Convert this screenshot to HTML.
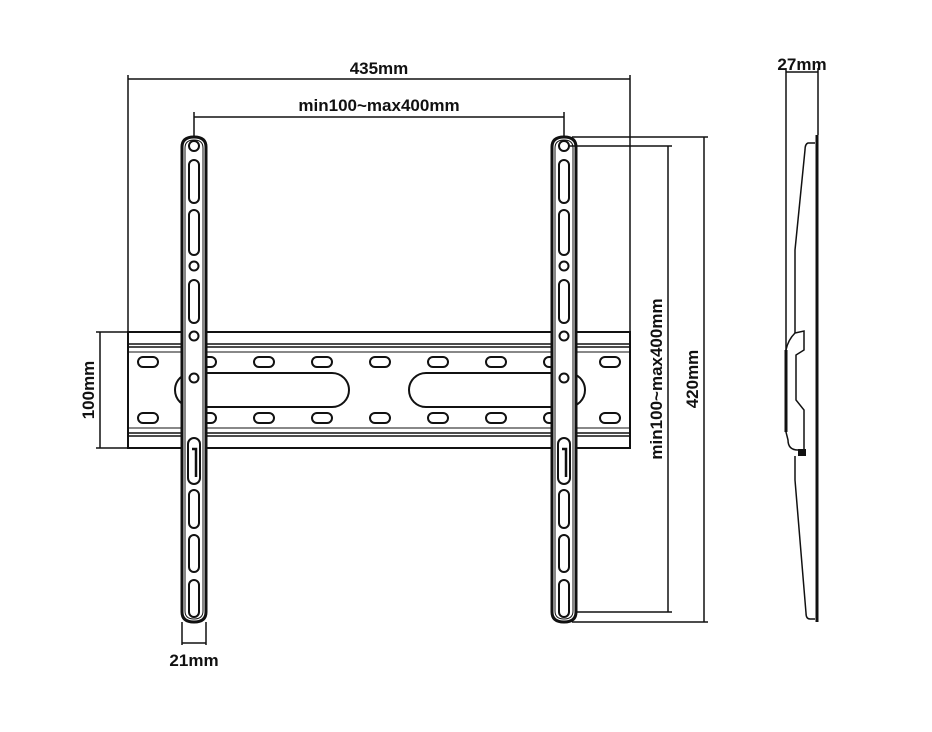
<!DOCTYPE html>
<html><head><style>
body{margin:0;background:#fff}
svg{display:block}
text{font-family:"Liberation Sans",sans-serif;font-weight:bold;font-size:17px;fill:#111}
</style></head><body>
<svg width="932" height="732" viewBox="0 0 932 732" xmlns="http://www.w3.org/2000/svg">
<defs>
<g id="strip">
  <path d="M-12,10 Q-12,0 0,0 Q12,0 12,10 L12,475 Q12,485 0,485 Q-12,485 -12,475 Z" fill="#fff" stroke="#111" stroke-width="3"/>
  <path d="M-9,11 Q-9,3 0,3 Q9,3 9,11 L9,474 Q9,482 0,482 Q-9,482 -9,474 Z" fill="none" stroke="#111" stroke-width="1"/>
  <circle cx="0" cy="9" r="5" fill="none" stroke="#111" stroke-width="2"/>
  <rect x="-5" y="23" width="10" height="43" rx="5" fill="none" stroke="#111" stroke-width="2"/>
  <rect x="-5" y="73" width="10" height="45" rx="5" fill="none" stroke="#111" stroke-width="2"/>
  <circle cx="0" cy="129" r="4.5" fill="none" stroke="#111" stroke-width="2"/>
  <rect x="-5" y="143" width="10" height="43" rx="5" fill="none" stroke="#111" stroke-width="2"/>
  <circle cx="0" cy="199" r="4.5" fill="none" stroke="#111" stroke-width="2"/>
  <circle cx="0" cy="241" r="4.5" fill="none" stroke="#111" stroke-width="2"/>
  <rect x="-6" y="301" width="12" height="46" rx="6" fill="none" stroke="#111" stroke-width="2"/>
  <path d="M-2,312 L2,312 L2,340" fill="none" stroke="#111" stroke-width="2.5"/>
  <rect x="-5" y="353" width="10" height="38" rx="5" fill="none" stroke="#111" stroke-width="2"/>
  <rect x="-5" y="398" width="10" height="37" rx="5" fill="none" stroke="#111" stroke-width="2"/>
  <rect x="-5" y="443" width="10" height="37" rx="5" fill="none" stroke="#111" stroke-width="2"/>
</g>
<rect id="sl" x="-10" y="-5" width="20" height="10" rx="5" fill="none" stroke="#111" stroke-width="2"/>
</defs>

<rect x="128" y="332" width="502" height="116" fill="#fff" stroke="#111" stroke-width="2"/>
<g stroke="#111" fill="none">
  <line x1="128" y1="344" x2="630" y2="344" stroke-width="1.5"/>
  <line x1="128" y1="347" x2="630" y2="347" stroke-width="1.5"/>
  <line x1="128" y1="352" x2="630" y2="352" stroke-width="1"/>
  <line x1="128" y1="428" x2="630" y2="428" stroke-width="1"/>
  <line x1="128" y1="433" x2="630" y2="433" stroke-width="1.5"/>
  <line x1="128" y1="436" x2="630" y2="436" stroke-width="1.5"/>
  <path d="M192,373 L332,373 A17,17 0 0 1 332,407 L192,407 A17,17 0 0 1 192,373 Z" stroke-width="2"/>
  <path d="M426,373 L568,373 A17,17 0 0 1 568,407 L426,407 A17,17 0 0 1 426,373 Z" stroke-width="2"/>
</g>
<g>
  <use href="#sl" x="148" y="362"/><use href="#sl" x="206" y="362"/><use href="#sl" x="264" y="362"/><use href="#sl" x="322" y="362"/><use href="#sl" x="380" y="362"/><use href="#sl" x="438" y="362"/><use href="#sl" x="496" y="362"/><use href="#sl" x="554" y="362"/><use href="#sl" x="610" y="362"/>
  <use href="#sl" x="148" y="418"/><use href="#sl" x="206" y="418"/><use href="#sl" x="264" y="418"/><use href="#sl" x="322" y="418"/><use href="#sl" x="380" y="418"/><use href="#sl" x="438" y="418"/><use href="#sl" x="496" y="418"/><use href="#sl" x="554" y="418"/><use href="#sl" x="610" y="418"/>
</g>
<use href="#strip" x="194" y="137"/>
<use href="#strip" x="564" y="137"/>

<g stroke="#111" stroke-width="1.5" fill="none">
  <line x1="128" y1="79" x2="630" y2="79"/>
  <line x1="128" y1="75" x2="128" y2="332"/>
  <line x1="630" y1="75" x2="630" y2="332"/>
  <line x1="194" y1="117" x2="564" y2="117"/>
  <line x1="194" y1="112" x2="194" y2="137"/>
  <line x1="564" y1="112" x2="564" y2="137"/>
  <line x1="572" y1="137" x2="708" y2="137"/>
  <line x1="570" y1="146" x2="672" y2="146"/>
  <line x1="576" y1="612" x2="672" y2="612"/>
  <line x1="572" y1="622" x2="708" y2="622"/>
  <line x1="668" y1="146" x2="668" y2="612"/>
  <line x1="704" y1="137" x2="704" y2="622"/>
  <line x1="96" y1="332" x2="128" y2="332"/>
  <line x1="96" y1="448" x2="128" y2="448"/>
  <line x1="100" y1="332" x2="100" y2="448"/>
  <line x1="182" y1="622" x2="182" y2="645"/>
  <line x1="206" y1="622" x2="206" y2="645"/>
  <line x1="182" y1="643" x2="206" y2="643"/>
  <line x1="786" y1="72" x2="818" y2="72"/>
  <line x1="786" y1="68" x2="786" y2="350"/>
  <line x1="818" y1="68" x2="818" y2="135"/>
</g>
<text x="379" y="74" text-anchor="middle">435mm</text>
<text x="379" y="111" text-anchor="middle">min100~max400mm</text>
<text x="194" y="666" text-anchor="middle">21mm</text>
<text x="802" y="70" text-anchor="middle">27mm</text>
<text transform="translate(94,390) rotate(-90)" text-anchor="middle">100mm</text>
<text transform="translate(662,379) rotate(-90)" text-anchor="middle">min100~max400mm</text>
<text transform="translate(698,379) rotate(-90)" text-anchor="middle">420mm</text>

<g stroke="#111" fill="none">
  <line x1="817" y1="135" x2="817" y2="622" stroke-width="3"/>
  <path d="M815,143 L808,143 Q805,144 805,150 L795,250 L795,333" stroke-width="1.5"/>
  <path d="M795,333 L804,331 L804,350 L796,355 L796,400 L804,410 L804,450 L798,450 Q788,450 788,440 L786,432 L786,350 Q788,340 795,333" stroke-width="1.5"/>
  <path d="M786,350 L786,432" stroke-width="3"/>
  <rect x="798" y="449" width="8" height="7" fill="#111" stroke="none"/>
  <path d="M795,456 L795,480 L806,613 Q806,619 810,619 L815,619" stroke-width="1.5"/>
</g>
</svg>
</body></html>
